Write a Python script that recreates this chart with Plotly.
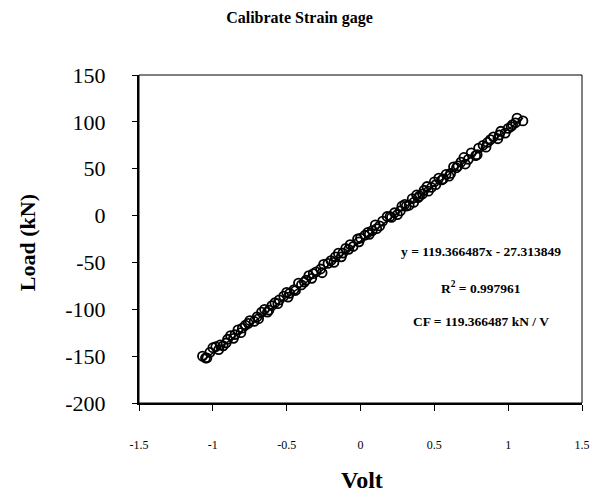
import plotly.graph_objects as go

volt = [-1.07, -1.05, -1.02, -1.00, -0.98, -0.95, -0.93, -0.90, -0.88, -0.85, -0.83, -0.80,
        -0.78, -0.75, -0.72, -0.70, -0.67, -0.65, -0.62, -0.60, -0.58, -0.55, -0.52, -0.50,
        -0.48, -0.45, -0.42, -0.40, -0.37, -0.35, -0.32, -0.30, -0.27, -0.25, -0.22, -0.20,
        -0.17, -0.15, -0.12, -0.10, -0.07, -0.05, -0.02, 0.00, 0.03, 0.05, 0.08, 0.10,
        0.13, 0.15, 0.18, 0.20, 0.23, 0.25, 0.28, 0.30, 0.33, 0.35, 0.38, 0.40,
        0.43, 0.45, 0.48, 0.50, 0.53, 0.55, 0.58, 0.60, 0.63, 0.65, 0.68, 0.70,
        0.73, 0.75, 0.78, 0.80, 0.83, 0.85, 0.88, 0.90, 0.93, 0.95, 0.98, 1.00,
        1.03, 1.06, 1.10,
        -1.04, -0.96, -0.91, -0.86, -0.81, -0.76, -0.69, -0.63, -0.56, -0.49, -0.44, -0.38,
        -0.33, -0.26, -0.18, -0.13, -0.08, -0.01, 0.06, 0.11, 0.21, 0.27, 0.31, 0.36,
        0.39, 0.42, 0.46, 0.51, 0.56, 0.61, 0.66, 0.71, 0.79, 0.86, 0.94, 1.02, 1.05]
load = [-150, -152, -146, -141, -140, -138, -139, -132, -128, -127, -122, -120,
        -117, -112, -113, -108, -103, -100, -101, -96, -93, -90, -86, -82,
        -83, -79, -72, -74, -69, -64, -62, -60, -57, -52, -51, -48,
        -44, -40, -40, -35, -31, -33, -25, -24, -21, -18, -16, -10,
        -11, -6, -1, -1, 3, 1, 10, 12, 11, 18, 22, 21,
        27, 31, 30, 36, 40, 38, 44, 42, 52, 51, 57, 62,
        60, 67, 64, 72, 75, 73, 81, 84, 82, 90, 88, 93,
        97, 104, 101,
        -152, -143, -136, -131, -125, -115, -110, -103, -94, -87, -80, -71,
        -67, -61, -50, -44, -36, -28, -20, -14, -2, 5, 10, 14,
        19, 23, 26, 33, 39, 45, 53, 55, 65, 78, 86, 95, 99]

slope = 119.366487
intercept = -27.313849
r2 = 0.997961

x_ticks = [-1.5, -1, -0.5, 0, 0.5, 1, 1.5]
x_tick_text = ["-1.5", "-1", "-0.5", "0", "0.5", "1", "1.5"]
y_ticks = [-200, -150, -100, -50, 0, 50, 100, 150]
y_tick_text = ["-200", "-150", "-100", "-50", "0", "50", "100", "150"]

fit_x = [min(volt), max(volt)]
fit_y = [slope * v + intercept for v in fit_x]

FONT = "Times New Roman, Liberation Serif, serif"

fig = go.Figure()
fig.add_trace(go.Scatter(
    x=volt, y=load, mode="markers",
    marker=dict(symbol="circle-open", size=9, color="black", line=dict(width=1.8, color="black")),
    showlegend=False))
fig.add_trace(go.Scatter(
    x=fit_x, y=fit_y, mode="lines",
    line=dict(color="black", width=1.5), showlegend=False))

fig.update_layout(
    width=599, height=493,
    margin=dict(l=139, r=9, t=75, b=90),
    paper_bgcolor="white", plot_bgcolor="white",
    font=dict(family=FONT, color="black"),
    showlegend=False,
    title=dict(text="<b>Calibrate Strain gage</b>", x=0.5, xanchor="center", y=0.965, yanchor="middle",
               font=dict(size=16, family=FONT, color="black")),
    xaxis=dict(range=[-1.5, 1.5], tickvals=x_ticks, ticktext=x_tick_text,
               showgrid=False, zeroline=False, showline=True, linecolor="black", linewidth=2,
               ticks="outside", ticklen=6, tickcolor="black", tickwidth=1,
               tickfont=dict(size=12, family=FONT), ticklabelstandoff=24),
    yaxis=dict(range=[-200, 150], tickvals=y_ticks, ticktext=y_tick_text,
               showgrid=False, zeroline=False, showline=True, linecolor="black", linewidth=2,
               ticks="outside", ticklen=5, tickcolor="black", tickwidth=1,
               tickfont=dict(size=22, family=FONT), ticklabelstandoff=22),
    shapes=[dict(type="rect", xref="paper", yref="paper", x0=0, y0=0, x1=1, y1=1,
                 line=dict(color="black", width=1), fillcolor="rgba(0,0,0,0)")],
    annotations=[
        dict(text="<b>Load (kN)</b>", xref="paper", yref="paper", x=-0.253, y=0.49,
             textangle=-90, showarrow=False, font=dict(size=22, family=FONT),
             xanchor="center", yanchor="middle"),
        dict(text="<b>Volt</b>", xref="paper", yref="paper", x=0.503, y=-0.235,
             showarrow=False, font=dict(size=24, family=FONT), xanchor="center", yanchor="middle"),
        dict(text=f"<b>y = {slope:.6f}x - {abs(intercept):.6f}</b>", xref="paper", yref="paper",
             x=0.772, y=0.462, xanchor="center", yanchor="middle",
             showarrow=False, font=dict(size=13.5, family=FONT)),
        dict(text=f"<b>R<sup>2</sup> = {r2:.6f}</b>", xref="paper", yref="paper",
             x=0.772, y=0.352, xanchor="center", yanchor="middle",
             showarrow=False, font=dict(size=13.5, family=FONT)),
        dict(text=f"<b>CF = {slope:.6f} kN / V</b>", xref="paper", yref="paper",
             x=0.772, y=0.247, xanchor="center", yanchor="middle",
             showarrow=False, font=dict(size=13.5, family=FONT)),
    ],
)

fig.write_html("out.html")
